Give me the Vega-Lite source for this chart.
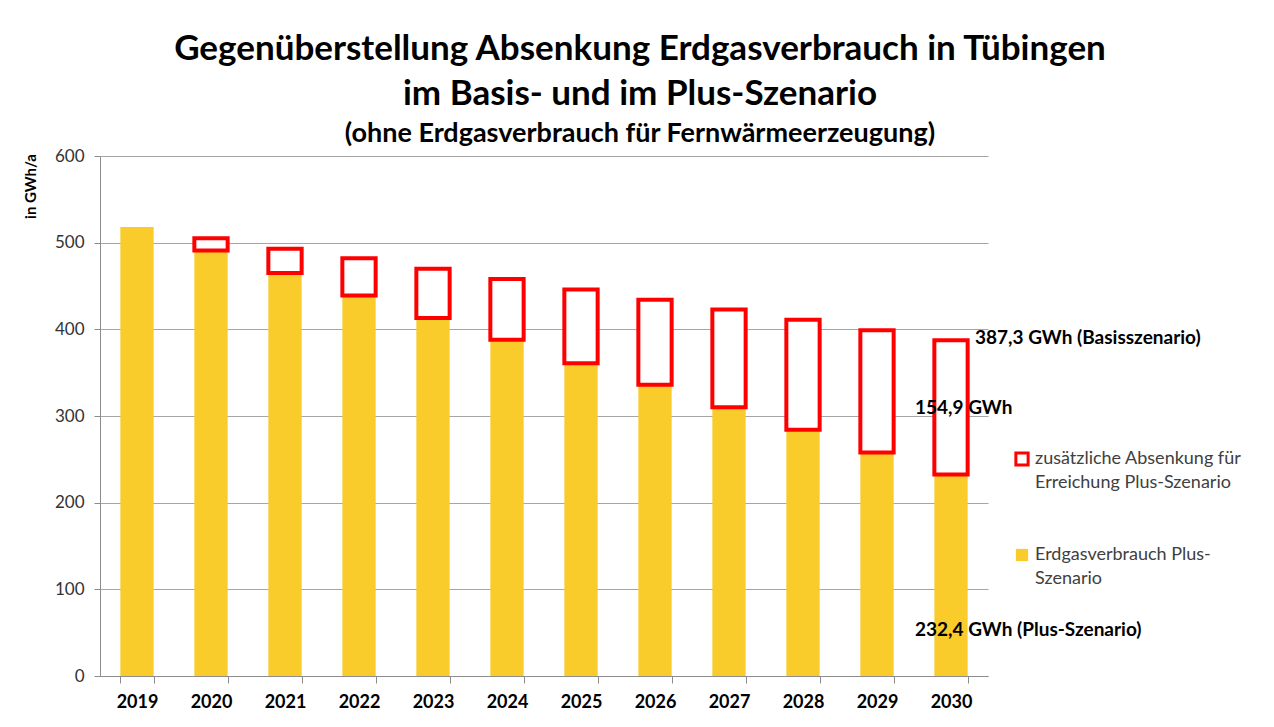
{
  "$schema": "https://vega.github.io/schema/vega-lite/v6.json",
  "autosize": "none",
  "width": 888,
  "height": 520,
  "padding": {"left": 100, "top": 156, "right": 286, "bottom": 51},
  "background": "white",
  "config": {
    "font": "Lato",
    "view": {"stroke": null},
    "title": {"font": "Lato", "fontSize": 35, "fontWeight": "bold", "color": "#000000", "lineHeight": 45, "subtitleFont": "Lato", "subtitleFontSize": 27, "subtitleFontWeight": "bold", "subtitleColor": "#000000", "subtitlePadding": 9}
  },
  "title": {
    "text": ["Gegenüberstellung Absenkung Erdgasverbrauch in Tübingen", "im Basis- und im Plus-Szenario"],
    "subtitle": "(ohne Erdgasverbrauch für Fernwärmeerzeugung)",
    "anchor": "middle",
    "frame": "group",
    "dx": 96,
    "offset": 0
  },
  "datasets": {
    "bars": [
      {"year": "2019", "series": "Erdgasverbrauch Plus-Szenario", "value": 518},
      {"year": "2020", "series": "Erdgasverbrauch Plus-Szenario", "value": 491},
      {"year": "2020", "series": "zusätzliche Absenkung für Erreichung Plus-Szenario", "value": 14},
      {"year": "2021", "series": "Erdgasverbrauch Plus-Szenario", "value": 465},
      {"year": "2021", "series": "zusätzliche Absenkung für Erreichung Plus-Szenario", "value": 28},
      {"year": "2022", "series": "Erdgasverbrauch Plus-Szenario", "value": 439},
      {"year": "2022", "series": "zusätzliche Absenkung für Erreichung Plus-Szenario", "value": 43},
      {"year": "2023", "series": "Erdgasverbrauch Plus-Szenario", "value": 413},
      {"year": "2023", "series": "zusätzliche Absenkung für Erreichung Plus-Szenario", "value": 57},
      {"year": "2024", "series": "Erdgasverbrauch Plus-Szenario", "value": 388},
      {"year": "2024", "series": "zusätzliche Absenkung für Erreichung Plus-Szenario", "value": 70},
      {"year": "2025", "series": "Erdgasverbrauch Plus-Szenario", "value": 361},
      {"year": "2025", "series": "zusätzliche Absenkung für Erreichung Plus-Szenario", "value": 85},
      {"year": "2026", "series": "Erdgasverbrauch Plus-Szenario", "value": 336},
      {"year": "2026", "series": "zusätzliche Absenkung für Erreichung Plus-Szenario", "value": 98},
      {"year": "2027", "series": "Erdgasverbrauch Plus-Szenario", "value": 310},
      {"year": "2027", "series": "zusätzliche Absenkung für Erreichung Plus-Szenario", "value": 113},
      {"year": "2028", "series": "Erdgasverbrauch Plus-Szenario", "value": 284},
      {"year": "2028", "series": "zusätzliche Absenkung für Erreichung Plus-Szenario", "value": 127},
      {"year": "2029", "series": "Erdgasverbrauch Plus-Szenario", "value": 258},
      {"year": "2029", "series": "zusätzliche Absenkung für Erreichung Plus-Szenario", "value": 141},
      {"year": "2030", "series": "Erdgasverbrauch Plus-Szenario", "value": 232.4},
      {"year": "2030", "series": "zusätzliche Absenkung für Erreichung Plus-Szenario", "value": 154.9}
    ],
    "notesRight": [
      {"year": "2030", "pos": 390, "label": "387,3 GWh (Basisszenario)"}
    ],
    "notesLeft": [
      {"year": "2030", "pos": 309, "label": "154,9 GWh"},
      {"year": "2030", "pos": 53, "label": "232,4 GWh (Plus-Szenario)"}
    ]
  },
  "layer": [
    {
      "data": {"name": "bars"},
      "mark": {"type": "bar", "strokeWidth": 4},
      "encoding": {
        "x": {
          "field": "year", "type": "nominal",
          "scale": {"paddingInner": 0.55, "paddingOuter": 0.275},
          "axis": {"title": null, "labelAngle": 0, "labelFont": "Lato", "labelFontSize": 18, "labelFontWeight": "bold", "labelColor": "#000000", "labelPadding": 10, "tickBand": "extent", "tickSize": 7, "tickColor": "#8C8C8C", "domainColor": "#8C8C8C", "grid": false}
        },
        "y": {
          "field": "value", "type": "quantitative", "stack": "zero",
          "scale": {"domain": [0, 600]},
          "axis": {"values": [0, 100, 200, 300, 400, 500, 600], "title": "in GWh/a", "titleFont": "Lato", "titleFontSize": 15, "titleFontWeight": "bold", "titleColor": "#000000", "titleAngle": 270, "titleAlign": "center", "titleBaseline": "middle", "titleX": -70, "titleY": 30, "labelFont": "Lato", "labelFontSize": 17, "labelColor": "#333333", "labelPadding": 10, "tickSize": 6, "tickColor": "#8C8C8C", "domainColor": "#8C8C8C", "gridColor": "#A6A6A6", "gridWidth": 1}
        },
        "fill": {
          "field": "series", "type": "nominal",
          "scale": {"domain": ["zusätzliche Absenkung für Erreichung Plus-Szenario", "Erdgasverbrauch Plus-Szenario"], "range": ["#FFFFFF", "#F9CB2B"]},
          "legend": {
            "title": null, "orient": "none", "legendX": 913, "legendY": 294,
            "symbolType": "square", "symbolSize": 150, "symbolStrokeWidth": 3,
            "labelFont": "Lato", "labelFontSize": 18, "labelColor": "#404040", "labelLimit": 300,
            "rowPadding": 50, "labelOffset": 4,
            "labelExpr": "datum.label == 'Erdgasverbrauch Plus-Szenario' ? ['Erdgasverbrauch Plus-', 'Szenario'] : ['zusätzliche Absenkung für', 'Erreichung Plus-Szenario']",
            "encode": {"labels": {"update": {"lineHeight": {"value": 24}}}}
          }
        },
        "stroke": {
          "field": "series", "type": "nominal",
          "scale": {"domain": ["zusätzliche Absenkung für Erreichung Plus-Szenario", "Erdgasverbrauch Plus-Szenario"], "range": ["#FF0000", "transparent"]}
        },
        "order": {"field": "series", "sort": "ascending"}
      }
    },
    {
      "data": {"name": "notesRight"},
      "mark": {"type": "text", "align": "left", "baseline": "middle", "dx": 24, "font": "Lato", "fontSize": 19, "fontWeight": "bold", "color": "#000000"},
      "encoding": {
        "x": {"field": "year", "type": "nominal"},
        "y": {"field": "pos", "type": "quantitative"},
        "text": {"field": "label"}
      }
    },
    {
      "data": {"name": "notesLeft"},
      "mark": {"type": "text", "align": "left", "baseline": "middle", "dx": -36, "font": "Lato", "fontSize": 19, "fontWeight": "bold", "color": "#000000"},
      "encoding": {
        "x": {"field": "year", "type": "nominal"},
        "y": {"field": "pos", "type": "quantitative"},
        "text": {"field": "label"}
      }
    }
  ]
}
